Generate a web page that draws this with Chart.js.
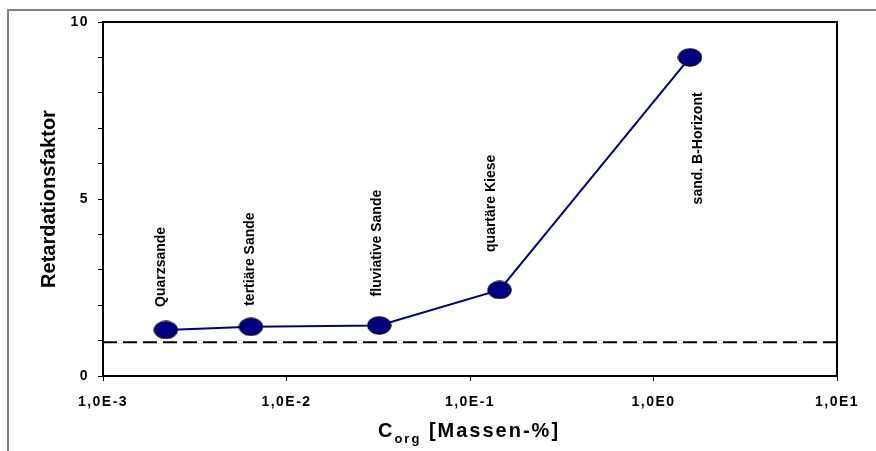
<!DOCTYPE html>
<html><head><meta charset="utf-8">
<script src="https://cdn.jsdelivr.net/npm/chart.js@4.4.1/dist/chart.umd.min.js"></script>
<style>html,body{margin:0;padding:0;background:#fff;}#wrap{width:876px;height:451px;}</style>
</head><body><div id="wrap"><canvas id="c" width="876" height="451"></canvas></div>
<script>
const sampleNames = ['Quarzsande', 'tertiäre Sande', 'fluviative Sande', 'quartäre Kiese', 'sand. B-Horizont'];
const corgValues = [0.0022, 0.0064, 0.032, 0.145, 1.58];
const retardation = [1.3, 1.39, 1.43, 2.43, 9.0];
const baselineX = [0.001, 10];
const baselineY = [0.95, 0.95];
const xTickValues = [0.001, 0.01, 0.1, 1, 10];
const yTickLabels = [0, 5, 10];
const labelOffsets = [[-5, -23], [-1, -21], [-2, -29], [-8, -38], [8, 147]];

const FONT = 'Liberation Sans, Arial, sans-serif';

function ellipseImg(w, h) {
  const c = document.createElement('canvas');
  c.width = w; c.height = h;
  const g = c.getContext('2d');
  g.beginPath();
  g.ellipse(w / 2, h / 2, w / 2 - 0.75, h / 2 - 0.75, 0, 0, Math.PI * 2);
  g.fillStyle = '#000080'; g.fill();
  g.lineWidth = 1; g.strokeStyle = '#000'; g.stroke();
  return c;
}
const marker = ellipseImg(25, 19);

function fmtExp(v) {
  const s = Number(v).toExponential(1);
  const parts = s.split('e');
  return parts[0].replace('.', ',') + 'E' + String(parseInt(parts[1], 10));
}

const deco = {
  id: 'deco',
  beforeDraw(chart) {
    const ctx = chart.ctx;
    ctx.save();
    ctx.fillStyle = '#fff';
    ctx.fillRect(0, 0, chart.width, chart.height);
    ctx.strokeStyle = '#808080';
    ctx.lineWidth = 2;
    ctx.beginPath();
    ctx.moveTo(8, 470); ctx.lineTo(8, 10); ctx.lineTo(890, 10);
    ctx.stroke();
    ctx.restore();
    ctx.letterSpacing = '1.5px';
  },
  beforeDatasetsDraw(chart) {
    chart.ctx.letterSpacing = '0px';
  },
  afterDraw(chart) {
    const ctx = chart.ctx;
    const a = chart.chartArea;
    ctx.letterSpacing = '0px';
    ctx.save();
    // plot frame
    ctx.strokeStyle = '#000';
    ctx.lineWidth = 2;
    ctx.strokeRect(a.left, a.top, a.right - a.left, a.bottom - a.top);
    // point labels
    const meta = chart.getDatasetMeta(1);
    ctx.fillStyle = '#000';
    ctx.font = 'bold 14px ' + FONT;
    ctx.textAlign = 'left';
    ctx.textBaseline = 'middle';
    meta.data.forEach((el, i) => {
      const off = labelOffsets[i];
      ctx.save();
      ctx.translate(el.x + off[0], el.y + off[1]);
      ctx.rotate(-Math.PI / 2);
      ctx.fillText(sampleNames[i], 0, 0);
      ctx.restore();
    });
    // y title
    ctx.save();
    ctx.font = 'bold 20px ' + FONT;
    ctx.textAlign = 'center';
    ctx.textBaseline = 'middle';
    ctx.translate(49, (a.top + a.bottom) / 2);
    ctx.rotate(-Math.PI / 2);
    ctx.fillText('Retardationsfaktor', 0, 0);
    ctx.restore();
    // x title with subscript
    ctx.save();
    ctx.letterSpacing = '2px';
    ctx.textAlign = 'left';
    ctx.textBaseline = 'alphabetic';
    const big = 'bold 20px ' + FONT, small = 'bold 13px ' + FONT;
    ctx.font = big; const w1 = ctx.measureText('C').width;
    ctx.font = small; const w2 = ctx.measureText('org').width;
    ctx.font = big; const w3 = ctx.measureText(' [Massen-%]').width;
    const total = w1 + w2 + w3;
    let x = 469 - total / 2;
    const base = 437;
    ctx.font = big; ctx.fillText('C', x, base); x += w1;
    ctx.font = small; ctx.fillText('org', x, base + 6); x += w2;
    ctx.font = big; ctx.fillText(' [Massen-%]', x, base);
    ctx.restore();
    ctx.restore();
  }
};

new Chart(document.getElementById('c'), {
  type: 'scatter',
  data: {
    datasets: [
      {
        data: baselineX.map((x, i) => ({ x: x, y: baselineY[i] })),
        showLine: true,
        borderColor: '#000',
        borderWidth: 2,
        borderDash: [14, 6],
        pointRadius: 0,
        fill: false
      },
      {
        data: corgValues.map((x, i) => ({ x: x, y: retardation[i] })),
        showLine: true,
        borderColor: '#000080',
        borderWidth: 2,
        pointStyle: marker,
        pointRadius: 10,
        fill: false
      }
    ]
  },
  options: {
    responsive: false,
    animation: false,
    devicePixelRatio: 1,
    layout: { padding: { left: 0, top: 22, right: 39, bottom: 0 }, autoPadding: false },
    plugins: { legend: { display: false }, tooltip: { enabled: false } },
    scales: {
      x: {
        type: 'logarithmic',
        min: 0.001,
        max: 10,
        afterBuildTicks: (s) => { s.ticks = xTickValues.map(v => ({ value: v })); },
        afterFit: (s) => { s.height = 75; },
        ticks: {
          callback: (v) => fmtExp(v),
          font: { family: FONT, weight: 'bold', size: 14 },
          color: '#000',
          padding: 13,
          maxRotation: 0,
          autoSkip: false
        },
        grid: { drawOnChartArea: false, drawTicks: true, tickLength: 5, color: '#000', tickColor: '#000' },
        border: { display: true, color: '#000', width: 2 }
      },
      y: {
        min: 0,
        max: 10,
        afterFit: (s) => { s.width = 103; },
        ticks: {
          stepSize: 1,
          callback: (v) => (yTickLabels.includes(v) ? String(v) : ''),
          font: { family: FONT, weight: 'bold', size: 14 },
          color: '#000',
          padding: 9
        },
        grid: { drawOnChartArea: false, drawTicks: true, tickLength: 5, color: '#000', tickColor: '#000' },
        border: { display: true, color: '#000', width: 2 }
      }
    }
  },
  plugins: [deco]
});
</script>
</body></html>
